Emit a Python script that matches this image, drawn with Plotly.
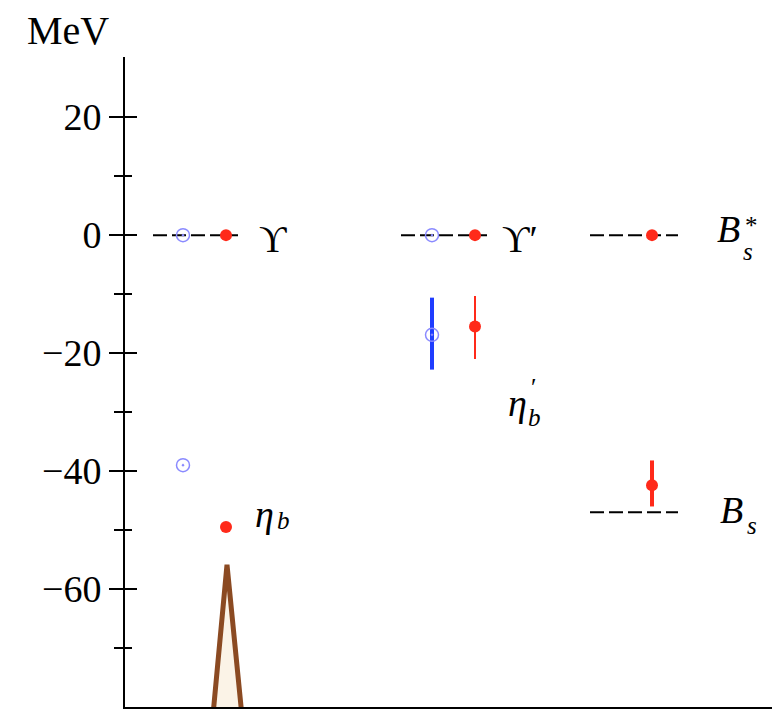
import plotly.graph_objects as go

# ---- data (MeV, relative to each reference level) ----
ref_levels = [0, 0, 0, -47]
ref_x0 = [0.28, 2.76, 4.65, 4.65]
ref_x1 = [1.13, 3.62, 5.53, 5.53]

blue_x = [0.58, 0.58, 3.07, 3.07]
blue_y = [0, -39.0, 0, -16.9]
blue_err_up = [0, 0, 0, 6.3]
blue_err_dn = [0, 0, 0, 5.9]

red_x = [1.01, 1.01, 3.50, 3.50, 5.27, 5.27]
red_y = [0, -49.5, 0, -15.5, 0, -42.4]
red_err_up = [0, 0, 0, 5.2, 0, 4.2]
red_err_dn = [0, 0, 0, 5.5, 0, 3.6]
red_err_thick = [0, 0, 0, 2, 0, 4]

tri_x = [0.86, 1.02, 1.19]
tri_y = [-85, -55.9, -85]

# label pieces: main symbols
main_text = ["ϒ", "ϒ′", "<i>B</i>", "<i>η</i>", "<i>η</i>", "<i>B</i>"]
main_x = [1.48, 3.95, 6.03, 1.39, 3.92, 6.06]
main_y = [-0.6, -0.6, 1.1, -47.3, -28.4, -46.6]
# sub/superscripts
small_text = ["<i>s</i>", "*", "<i>b</i>", "<i>b</i>", "′", "<i>s</i>"]
small_x = [6.23, 6.26, 1.58, 4.09, 4.08, 6.27]
small_y = [-2.8, 1.7, -48.4, -30.9, -25.9, -49.3]

major_ticks = [20, 0, -20, -40, -60]
major_labels = ["20", "0", "−20", "−40", "−60"]
minor_ticks = [10, -10, -30, -50, -70]

YR = [-80, 30.2]
XR = [0, 6.47]
FONT = "Liberation Serif"

fig = go.Figure()

fig.add_trace(go.Scatter(x=tri_x, y=tri_y, mode="lines", fill="toself",
                         fillcolor="#fbf3e7", line=dict(color="#8b4a22", width=5),
                         hoverinfo="skip", showlegend=False))

for i in range(len(ref_levels)):
    fig.add_trace(go.Scatter(x=[ref_x0[i], ref_x1[i]], y=[ref_levels[i], ref_levels[i]],
                             mode="lines", line=dict(color="black", width=2, dash="14px,5px"),
                             showlegend=False, hoverinfo="skip"))

for i in range(len(blue_x)):
    if blue_err_up[i] or blue_err_dn[i]:
        fig.add_trace(go.Scatter(x=[blue_x[i]], y=[blue_y[i]], mode="markers",
                                 marker=dict(size=1, color="rgba(0,0,0,0)"),
                                 error_y=dict(type="data", symmetric=False, array=[blue_err_up[i]],
                                              arrayminus=[blue_err_dn[i]], color="#1f3dff",
                                              thickness=4, width=0),
                                 showlegend=False))
fig.add_trace(go.Scatter(x=blue_x, y=blue_y, mode="markers",
                         marker=dict(symbol="circle-open-dot", size=13, color="#8a8aff",
                                     line=dict(width=1.5, color="#8a8aff")),
                         showlegend=False))

for i in range(len(red_x)):
    if red_err_up[i] or red_err_dn[i]:
        fig.add_trace(go.Scatter(x=[red_x[i]], y=[red_y[i]], mode="markers",
                                 marker=dict(size=1, color="rgba(0,0,0,0)"),
                                 error_y=dict(type="data", symmetric=False, array=[red_err_up[i]],
                                              arrayminus=[red_err_dn[i]], color="#ff2a1a",
                                              thickness=red_err_thick[i], width=0),
                                 showlegend=False))
fig.add_trace(go.Scatter(x=red_x, y=red_y, mode="markers",
                         marker=dict(symbol="circle", size=12, color="#ff2a1a"),
                         showlegend=False))

fig.add_trace(go.Scatter(x=[None], y=[None], yaxis="y2", showlegend=False))

for t, x, y in zip(main_text, main_x, main_y):
    fig.add_annotation(x=x, y=y, text=t, showarrow=False, xanchor="center", yanchor="middle",
                       font=dict(family=FONT, size=38, color="black"))
for t, x, y in zip(small_text, small_x, small_y):
    fig.add_annotation(x=x, y=y, text=t, showarrow=False, xanchor="center", yanchor="middle",
                       borderpad=0, font=dict(family=FONT, size=25, color="black"))

fig.add_annotation(xref="paper", yref="paper", x=-0.1546, y=1.078, text="MeV", showarrow=False,
                   xanchor="left", yanchor="top", font=dict(family=FONT, size=40, color="black"))

fig.update_layout(
    width=772, height=710,
    margin=dict(l=125, r=0, t=57, b=3),
    paper_bgcolor="white", plot_bgcolor="white",
    xaxis=dict(range=XR, showgrid=False, zeroline=False, showticklabels=False, ticks="",
               showline=True, linecolor="black", linewidth=2, mirror=False),
    yaxis=dict(range=YR, showgrid=False, zeroline=False, showline=True, linecolor="black",
               linewidth=2, tickvals=major_ticks, ticktext=major_labels, ticks="outside",
               ticklen=14, tickwidth=2, tickcolor="black",
               minor=dict(tickvals=minor_ticks, ticks="outside", ticklen=9, tickwidth=2,
                          tickcolor="black"),
               tickfont=dict(family=FONT, size=38, color="black")),
    yaxis2=dict(range=YR, overlaying="y", side="left", showgrid=False, zeroline=False,
                showline=False, tickvals=major_ticks, showticklabels=False, ticks="inside",
                ticklen=12, tickwidth=2, tickcolor="black",
                minor=dict(tickvals=minor_ticks, ticks="inside", ticklen=7, tickwidth=2,
                           tickcolor="black")),
)

fig.write_html("out.html")
